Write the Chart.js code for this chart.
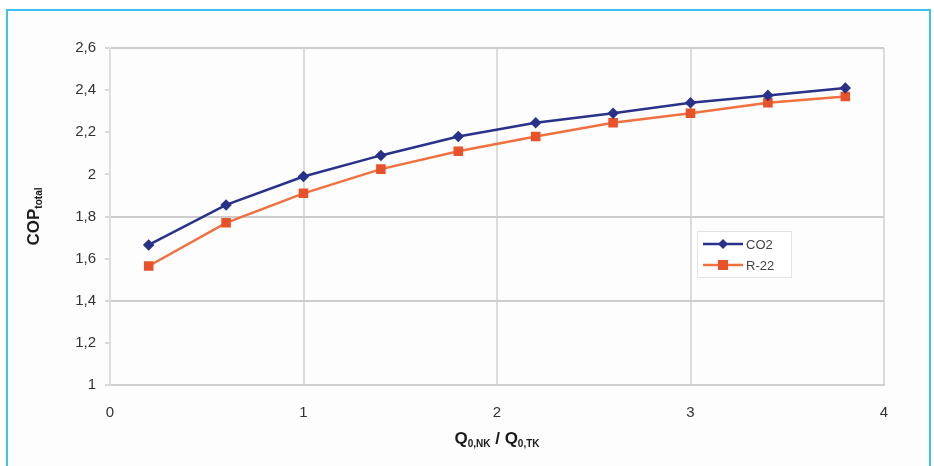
<!DOCTYPE html>
<html>
<head>
<meta charset="utf-8">
<script src="https://cdn.jsdelivr.net/npm/chart.js@4"></script>
<style>
    html, body { margin: 0; padding: 0; background: #fff; overflow: hidden; }
    #frame { position: absolute; left: 6px; top: 9px; width: 921px; height: 470px; border: 2px solid #3fc0ef; background: #fdfdfd; }
    #wrap { position: absolute; left: 0; top: 0; width: 934px; height: 466px; }
</style>
</head>
<body>
<div id="frame"></div>
<div id="wrap"><canvas id="cop" width="934" height="466"></canvas></div>
<script>
// data
const ratio = [0.2, 0.6, 1.0, 1.4, 1.8, 2.2, 2.6, 3.0, 3.4, 3.8]
const co2 = [1.665, 1.855, 1.99, 2.09, 2.18, 2.245, 2.29, 2.34, 2.375, 2.41]
const r22 = [1.565, 1.77, 1.91, 2.025, 2.11, 2.18, 2.245, 2.29, 2.34, 2.37]
const seriesNames = ['CO2', 'R-22']
const gridValues = [1, 1.4, 1.8, 2.6]

const font = 'Liberation Sans, Arial, sans-serif'
const comma = v => (Math.round(v * 10) / 10).toString().replace('.', ',')

// text with a subscript, drawn left to right
const drawSub = (ctx, parts, x, y, big, small) => {
    parts.forEach(p => {
        ctx.font = 'bold ' + (p.sub ? small : big) + 'px ' + font
        ctx.fillText(p.t, x, y + (p.sub ? 5 : 0))
        x += ctx.measureText(p.t).width
    })
    return x
}
const subWidth = (ctx, parts, big, small) => {
    let w = 0
    parts.forEach(p => {
        ctx.font = 'bold ' + (p.sub ? small : big) + 'px ' + font
        w += ctx.measureText(p.t).width
    })
    return w
}

const decorations = {
    id: 'decorations',
    afterDraw(chart) {
        const ctx = chart.ctx
        const area = chart.chartArea
        ctx.save()
        ctx.fillStyle = '#1a1a1a'
        ctx.textBaseline = 'middle'

        // x title
        const xParts = [{ t: 'Q' }, { t: '0,NK', sub: true }, { t: ' / Q' }, { t: '0,TK', sub: true }]
        const xw = subWidth(ctx, xParts, 17, 10)
        drawSub(ctx, xParts, (area.left + area.right) / 2 - xw / 2, 439, 17, 10)

        // y title
        const yParts = [{ t: 'COP' }, { t: 'total', sub: true }]
        const yw = subWidth(ctx, yParts, 17, 10)
        ctx.translate(34, (area.top + area.bottom) / 2)
        ctx.rotate(-Math.PI / 2)
        drawSub(ctx, yParts, -yw / 2, 0, 17, 10)
        ctx.restore()

        // legend box inside the plot
        ctx.save()
        const lx = 697, ly = 231
        ctx.fillStyle = '#ffffff'
        ctx.fillRect(lx, ly, 94, 46)
        ctx.strokeStyle = '#e4e4e4'
        ctx.lineWidth = 1
        ctx.strokeRect(lx + 0.5, ly + 0.5, 94, 46)
        chart.data.datasets.forEach((ds, i) => {
            const y = ly + 13 + i * 21
            ctx.strokeStyle = ds.borderColor
            ctx.lineWidth = 2.5
            ctx.beginPath()
            ctx.moveTo(lx + 6, y)
            ctx.lineTo(lx + 46, y)
            ctx.stroke()
            ctx.fillStyle = ds.pointBackgroundColor
            ctx.beginPath()
            if (ds.pointStyle === 'rect') {
                ctx.rect(lx + 21, y - 5, 10, 10)
            } else {
                ctx.moveTo(lx + 26, y - 5)
                ctx.lineTo(lx + 31, y)
                ctx.lineTo(lx + 26, y + 5)
                ctx.lineTo(lx + 21, y)
                ctx.closePath()
            }
            ctx.fill()
            ctx.fillStyle = '#444'
            ctx.font = '13px ' + font
            ctx.textBaseline = 'middle'
            ctx.fillText(ds.label, lx + 49, y + 1)
        })
        ctx.restore()
    }
}

const data = {
    datasets: [{
        label: seriesNames[0],
        data: ratio.map((x, i) => ({ x: x, y: co2[i] })),
        borderColor: '#28328a',
        backgroundColor: '#28328a',
        pointBackgroundColor: '#28328a',
        pointBorderColor: '#28328a',
        pointStyle: 'rectRot',
        pointRadius: 4,
        borderWidth: 2.5,
        order: 0
    }, {
        label: seriesNames[1],
        data: ratio.map((x, i) => ({ x: x, y: r22[i] })),
        borderColor: '#f07040',
        backgroundColor: '#e8522b',
        pointBackgroundColor: '#e8522b',
        pointBorderColor: '#e8522b',
        pointStyle: 'rect',
        pointRadius: 5,
        borderWidth: 2.5,
        order: 1
    }]
}

const config = {
    type: 'line',
    data: data,
    options: {
        responsive: false,
        animation: false,
        layout: { padding: { left: 0, top: 48, right: 50, bottom: 0 } },
        plugins: { legend: { display: false }, tooltip: { enabled: false } },
        scales: {
            x: {
                type: 'linear',
                min: 0,
                max: 4,
                ticks: { stepSize: 1, color: '#333', font: { family: font, size: 15 }, padding: 19 },
                grid: { color: '#dcdcdc', lineWidth: 2, tickLength: 6, drawTicks: false },
                border: { color: '#cfcfcf', width: 2 },
                afterFit: s => { s.height = 81 }
            },
            y: {
                min: 1,
                max: 2.6,
                ticks: { stepSize: 0.2, color: '#333', font: { family: font, size: 15 }, padding: 9, callback: v => comma(v) },
                grid: {
                    color: c => gridValues.some(g => Math.abs(g - c.tick.value) < 1e-6) ? '#cdcdcd' : 'rgba(0,0,0,0)',
                    lineWidth: 2,
                    tickColor: '#d8d8d8',
                    tickLength: 5
                },
                border: { color: '#e0e0e0', width: 1 },
                afterFit: s => { s.width = 110 }
            }
        }
    },
    plugins: [decorations]
}

const copChart = new Chart(document.getElementById('cop'), config)
</script>
</body>
</html>
